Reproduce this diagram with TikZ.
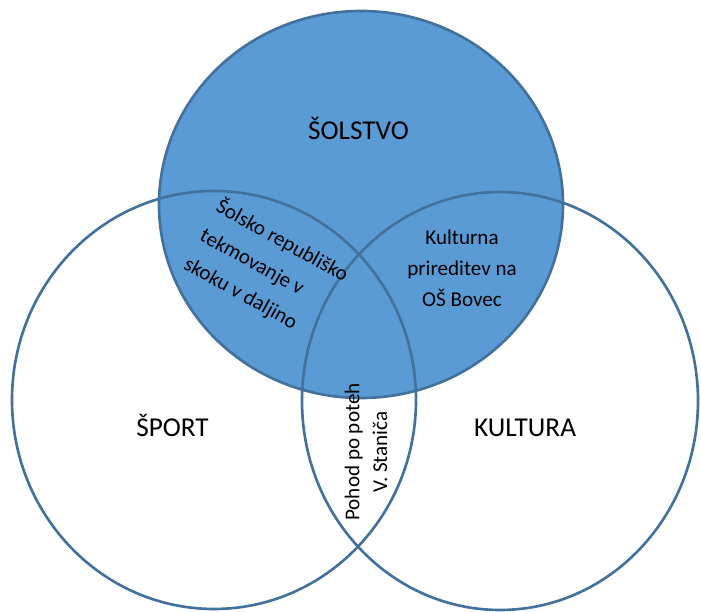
\documentclass[tikz,border=0pt]{standalone}
\usepackage{fontspec}
\setmainfont{Carlito}
\definecolor{vennfill}{HTML}{5B9BD5}
\definecolor{vennline}{HTML}{41719C}
\tikzset{
  venn/.style={line width=1.5pt, draw=vennline},
  bigtext/.style={anchor=base, font=\fontsize{15.5}{18}\selectfont},
  smalltext/.style={font=\fontsize{12}{17.6}\selectfont}
}
\begin{document}
\begin{tikzpicture}

\useasboundingbox (0,0) rectangle (14.02,12.24);

\draw[venn, fill=vennfill] (7.22,8.15) ellipse (4.04 and 3.87);
\draw[venn] (4.28,4.24) ellipse (4.04 and 4.18);
\draw[venn] (10.0,4.22) ellipse (3.96 and 4.18);

\node[bigtext] (solstvo) at (7.17,9.44) {ŠOLSTVO};
\node[bigtext] (sport) at (3.45,3.50) {ŠPORT};
\node[bigtext] (kultura) at (10.5,3.50) {KULTURA};

\node[smalltext, align=left, rotate=-29, font=\fontsize{12}{18.8}\selectfont] (skok) at (5.33,6.85) {Šolsko republiško\\tekmovanje v\\skoku v daljino};
\node[smalltext, align=center] (prireditev) at (9.24,6.88) {Kulturna\\prireditev na\\OŠ Bovec};
\node[smalltext, align=center, rotate=90, font=\fontsize{12}{15.9}\selectfont] (pohod) at (7.32,3.2) {Pohod po poteh\\V. Staniča};

\end{tikzpicture}
\end{document}
